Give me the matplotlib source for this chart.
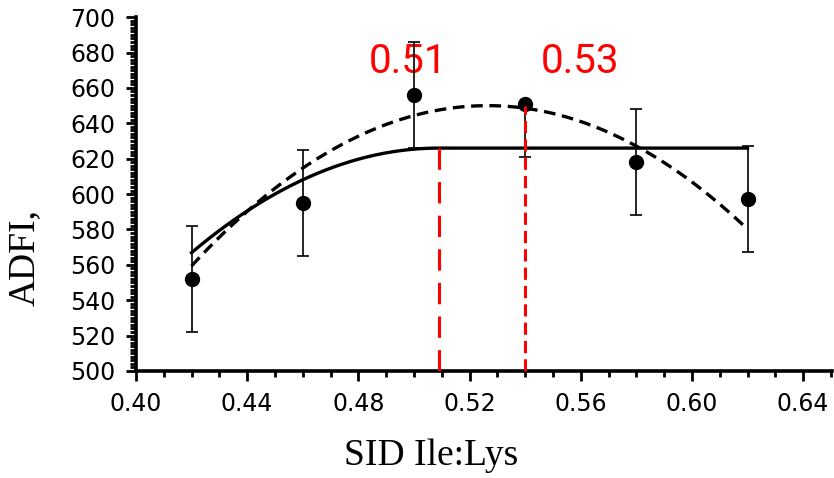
import numpy as np
import matplotlib.pyplot as plt
from matplotlib.ticker import MultipleLocator

# observed means and SE
sid = [0.42, 0.46, 0.50, 0.54, 0.58, 0.62]
adfi = [552, 595, 656, 651, 618, 597]
err_lo = [30, 30, 30, 30, 30, 30]
err_hi = [30, 30, 30, 0, 30, 30]

# fitted models
# broken-line quadratic: plateau, breakpoint, curvature
bl_plateau = 626
bl_break = 0.509
bl_curv = 7469
# quadratic: max, vertex, curvature
qp_max = 650
qp_vertex = 0.5265
qp_curv = 7990

# breakpoint lines and labels
bp_x = [0.509, 0.54]
bp_top = [629, 650]
bp_labels = ['0.51', '0.53']
lab_x = [0.498, 0.5596]

fig = plt.figure(figsize=(8.34, 4.78), dpi=100)
ax = fig.add_axes([0.163, 0.224, 0.835, 0.740])

xs = np.linspace(0.42, 0.62, 200)
bl = np.where(xs < bl_break, bl_plateau - bl_curv * (bl_break - xs) ** 2, bl_plateau)
qp = qp_max - qp_curv * (xs - qp_vertex) ** 2

ax.plot(xs, bl, color='black', lw=2.4, zorder=3)
ax.plot(xs, qp, color='black', lw=2.4, ls=(0, (3.5, 2)), zorder=3)

ax.errorbar(sid, adfi, yerr=[err_lo, err_hi], fmt='o', color='black',
            ms=10, elinewidth=1.2, capsize=4.5, capthick=1.2, zorder=4)

ax.plot([bp_x[0], bp_x[0]], [500, bp_top[0]], color='red', lw=2.2,
        ls=(0, (7, 4)), zorder=5)
ax.plot([bp_x[1], bp_x[1]], [500, bp_top[1]], color='red', lw=2.2,
        ls=(0, (4, 2)), zorder=5)
for xl, t in zip(lab_x, bp_labels):
    ax.text(xl, 675, t, color='red', fontsize=29, family='Roboto',
            ha='center', va='center')

ax.set_xlim(0.40, 0.6505)
ax.set_ylim(500, 700)
ax.xaxis.set_major_locator(MultipleLocator(0.04))
ax.xaxis.set_minor_locator(MultipleLocator(0.01))
ax.yaxis.set_major_locator(MultipleLocator(20))
ax.yaxis.set_minor_locator(MultipleLocator(2))
ax.xaxis.set_major_formatter(plt.FuncFormatter(lambda v, p: f'{v:.2f}'))

for s in ['top', 'right']:
    ax.spines[s].set_visible(False)
for s in ['left', 'bottom']:
    ax.spines[s].set_linewidth(2.6)

ax.tick_params(which='major', length=7, width=2, labelsize=17, pad=8)
ax.tick_params(which='minor', length=4.5, width=2)
for lab in ax.get_xticklabels() + ax.get_yticklabels():
    lab.set_family('DejaVu Sans')

ax.set_xlabel('SID Ile:Lys', family='Liberation Serif', fontsize=27)
ax.set_ylabel('ADFI,', family='Liberation Serif', fontsize=27)
ax.xaxis.set_label_coords(0.424, -0.19)
ax.yaxis.set_label_coords(-0.135, 0.32)

fig.savefig('out.png', dpi=100)
